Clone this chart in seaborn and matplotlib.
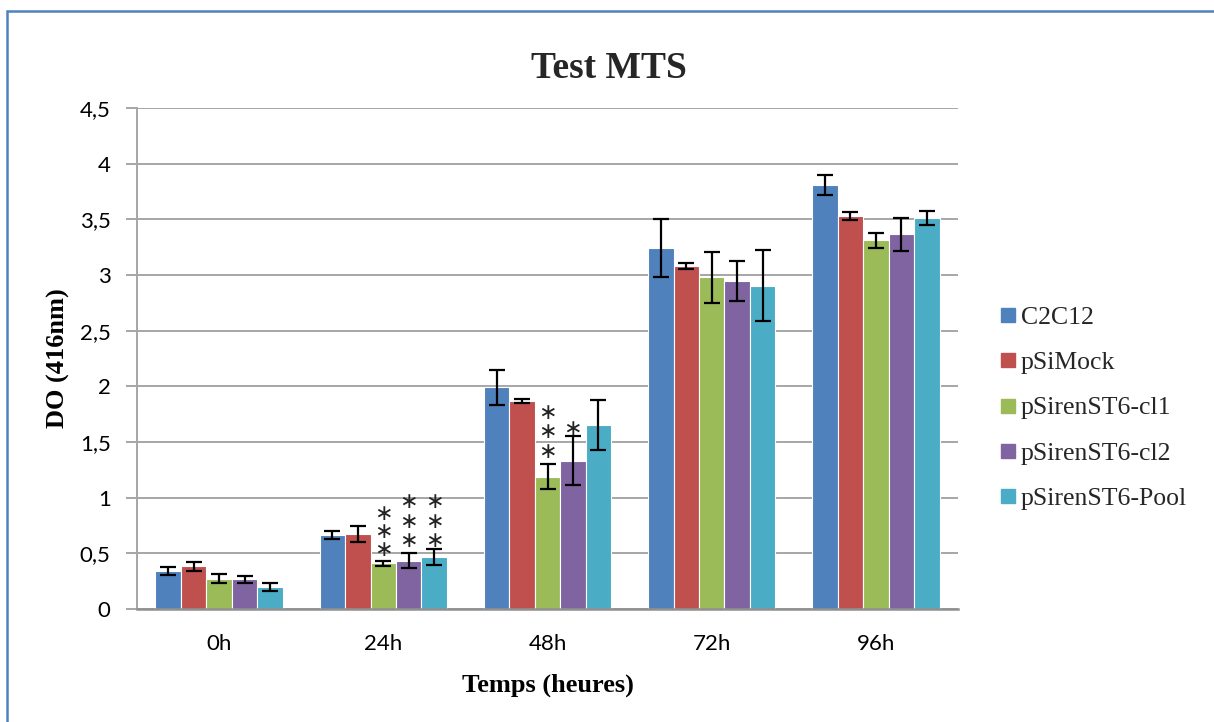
import matplotlib
matplotlib.use("Agg")
import matplotlib.pyplot as plt
import seaborn as sns
import pandas as pd
import numpy as np
from matplotlib.patches import Rectangle
from matplotlib.lines import Line2D

times = ["0h", "24h", "48h", "72h", "96h"]
groups = ["C2C12", "pSiMock", "pSirenST6-cl1", "pSirenST6-cl2", "pSirenST6-Pool"]
colors = ["#4F81BD", "#C0504D", "#9BBB59", "#8064A2", "#4BACC6"]

c2c12 = [0.34, 0.665, 1.99, 3.24, 3.81]
psimock = [0.385, 0.675, 1.87, 3.08, 3.53]
cl1 = [0.27, 0.41, 1.19, 2.98, 3.31]
cl2 = [0.265, 0.435, 1.33, 2.945, 3.365]
pool = [0.20, 0.465, 1.65, 2.905, 3.51]

err_c2c12 = [0.035, 0.04, 0.16, 0.26, 0.09]
err_psimock = [0.04, 0.07, 0.02, 0.03, 0.035]
err_cl1 = [0.04, 0.025, 0.115, 0.23, 0.065]
err_cl2 = [0.03, 0.07, 0.22, 0.18, 0.15]
err_pool = [0.035, 0.07, 0.225, 0.32, 0.065]

# significance stars: (time, group, y positions)
stars_time = ["24h", "24h", "24h", "48h", "48h"]
stars_group = ["pSirenST6-cl1", "pSirenST6-cl2", "pSirenST6-Pool", "pSirenST6-cl1", "pSirenST6-cl2"]
stars_y = [[0.53, 0.69, 0.855], [0.61, 0.78, 0.96], [0.61, 0.78, 0.96], [1.41, 1.59, 1.76], [1.62]]

values = [c2c12, psimock, cl1, cl2, pool]
errors = [err_c2c12, err_psimock, err_cl1, err_cl2, err_pool]

rows = []
for g, vals, errs in zip(groups, values, errors):
    for t, v, e in zip(times, vals, errs):
        rows.append({"time": t, "group": g, "value": v, "err": e})
df = pd.DataFrame(rows)

sns.set_theme(style="white")
plt.rcParams["font.family"] = ["DejaVu Sans"]

fig = plt.figure(figsize=(12.14, 7.22), dpi=100)
ax = fig.add_axes([137 / 1214, 1 - 609 / 722, (958 - 137) / 1214, (609 - 108) / 722])

sns.barplot(data=df, x="time", y="value", hue="group", order=times, hue_order=groups,
            palette=colors, width=0.775, errorbar=None, ax=ax, saturation=1,
            edgecolor="white", linewidth=0.8, legend=False)

# error bars via patch positions
bars = [p for p in ax.patches if isinstance(p, Rectangle) and p.get_width() > 0]
centers = {}
for i, g in enumerate(groups):
    for j, t in enumerate(times):
        p = bars[i * len(times) + j]
        cx = p.get_x() + p.get_width() / 2
        centers[(t, g)] = cx
        ax.errorbar(cx, values[i][j], yerr=errors[i][j], fmt="none", ecolor="black",
                    elinewidth=1.6, capsize=5.5, capthick=1.6, zorder=5)

for t, g, ys in zip(stars_time, stars_group, stars_y):
    for yv in ys:
        ax.text(centers[(t, g)], yv, "\u2217", ha="center", va="center", fontsize=16,
                color="#222222", family="DejaVu Sans", zorder=6)

ax.set_ylim(0, 4.5)
ax.set_xlim(-0.5, 4.5)
ax.set_yticks(np.arange(0, 4.51, 0.5))
ax.set_yticklabels(["0", "0,5", "1", "1,5", "2", "2,5", "3", "3,5", "4", "4,5"])
ax.yaxis.grid(True, color="#A6A6A6", linewidth=1.4)
ax.set_axisbelow(True)
for s in ["top", "right"]:
    ax.spines[s].set_visible(False)
ax.spines["left"].set_color("#A6A6A6")
ax.spines["left"].set_linewidth(1.4)
ax.spines["bottom"].set_color("#909090")
ax.spines["bottom"].set_linewidth(1.8)
ax.tick_params(axis="y", which="major", length=8, width=1.4, color="#A6A6A6", direction="out",
               left=True, labelsize=16, pad=11, labelcolor="black")
ax.tick_params(axis="x", length=0, labelsize=16, pad=18, labelcolor="black")
for lab in ax.get_xticklabels() + ax.get_yticklabels():
    lab.set_family("Lato")

ax.set_xlabel("Temps (heures)", family="Liberation Serif", fontweight="bold", fontsize=19, color="black")
ax.set_ylabel("DO (416nm)", family="Liberation Serif", fontweight="bold", fontsize=19, color="black")
ax.xaxis.set_label_coords(0.5, (609 - 685) / 501)
ax.xaxis.label.set_va("center")
ax.yaxis.set_label_coords((58 - 137) / 821, 0.5)
ax.yaxis.label.set_va("center")
fig.text(609 / 1214, 1 - 68 / 722, "Test MTS", ha="center", va="center",
         family="Liberation Serif", fontweight="bold", fontsize=27)

handles = [Line2D([0], [0], marker="s", linestyle="none", markersize=10,
                  markerfacecolor=c, markeredgecolor=c) for c in colors]
fig.legend(handles, groups, loc="center left", bbox_to_anchor=(990 / 1214, 1 - 408 / 722),
           frameon=False, prop={"family": "Liberation Serif", "size": 18.5},
           labelspacing=0.86, handletextpad=0.0, handlelength=1.0, borderaxespad=0, borderpad=0.2)

fig.patches.append(Rectangle((7 / 1214, -0.05), 1.1, 1 - 11 / 722 + 0.05, transform=fig.transFigure,
                             fill=False, edgecolor="#4F81BD", linewidth=1.8, zorder=0))

fig.savefig("out.png", dpi=100)
